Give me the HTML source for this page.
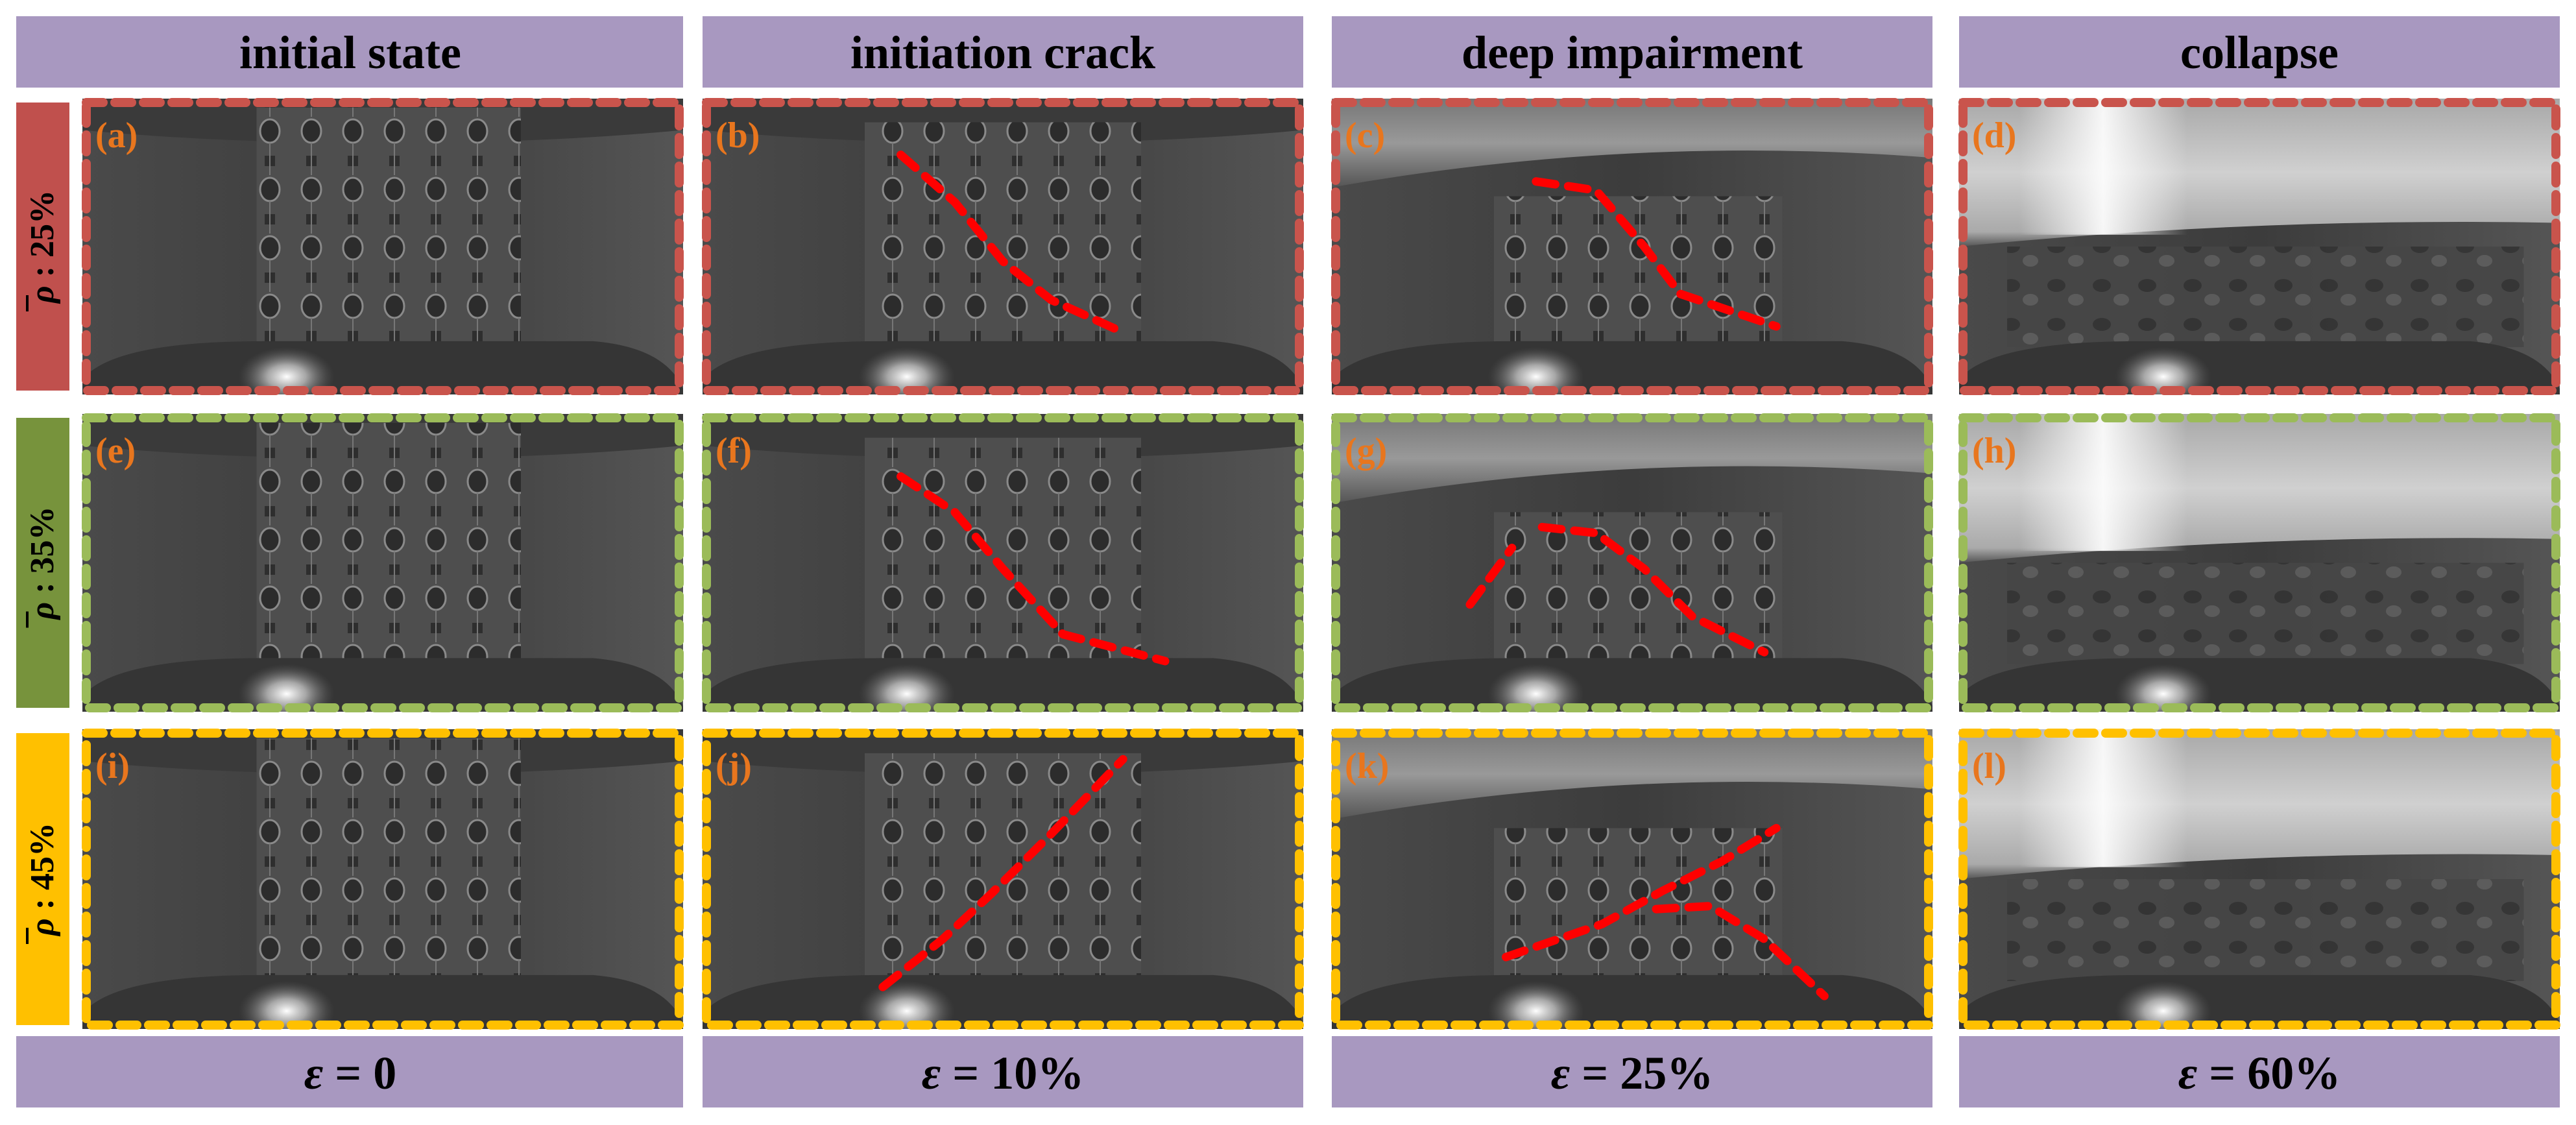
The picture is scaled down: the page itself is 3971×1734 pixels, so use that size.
<!DOCTYPE html>
<html><head><meta charset="utf-8">
<style>
html,body{margin:0;padding:0;background:#fff;}
svg{display:block;}
</style></head>
<body>
<svg id="fig" width="3971" height="1734" viewBox="0 0 3971 1734" xmlns="http://www.w3.org/2000/svg" font-family="'Liberation Serif', serif">
<defs>
  <radialGradient id="spot" cx="0.5" cy="0.5" r="0.5">
    <stop offset="0" stop-color="#ffffff" stop-opacity="1"/>
    <stop offset="0.4" stop-color="#d8d8d8" stop-opacity="0.7"/>
    <stop offset="1" stop-color="#666" stop-opacity="0"/>
  </radialGradient>
  <linearGradient id="bg" x1="0" y1="0" x2="1" y2="0">
    <stop offset="0" stop-color="#4a4a4a"/>
    <stop offset="0.5" stop-color="#3c3c3c"/>
    <stop offset="1" stop-color="#555"/>
  </linearGradient>
  <linearGradient id="topMid" x1="0" y1="0" x2="0" y2="1">
    <stop offset="0" stop-color="#777"/>
    <stop offset="0.5" stop-color="#999"/>
    <stop offset="1" stop-color="#555"/>
  </linearGradient>
  <linearGradient id="topBright" x1="0" y1="0" x2="0" y2="1">
    <stop offset="0" stop-color="#a8a8a8"/>
    <stop offset="0.5" stop-color="#d0d0d0"/>
    <stop offset="0.9" stop-color="#aaa"/>
    <stop offset="1" stop-color="#555"/>
  </linearGradient>
  <linearGradient id="streak" x1="0" y1="0" x2="1" y2="0">
    <stop offset="0" stop-color="#fff" stop-opacity="0"/>
    <stop offset="0.5" stop-color="#fff" stop-opacity="0.9"/>
    <stop offset="1" stop-color="#fff" stop-opacity="0"/>
  </linearGradient>
  <pattern id="cells" x="0" y="0" width="64" height="90" patternUnits="userSpaceOnUse">
    <rect width="64" height="90" fill="#4e4e4e"/>
    <ellipse cx="32" cy="22" rx="15" ry="18" fill="#2c2c2c" stroke="#8a8a8a" stroke-width="3"/>
    <rect x="24" y="60" width="16" height="16" fill="#2e2e2e"/>
    <line x1="32" y1="40" x2="32" y2="90" stroke="#777" stroke-width="2"/>
  </pattern>
  <pattern id="debris" x="0" y="0" width="70" height="60" patternUnits="userSpaceOnUse">
    <rect width="70" height="60" fill="#464646"/>
    <ellipse cx="20" cy="20" rx="14" ry="10" fill="#333"/>
    <ellipse cx="50" cy="42" rx="12" ry="9" fill="#5e5e5e"/>
  </pattern>
</defs>
<g id="layer"></g>
</svg>
<script>
// figure content
const colHeaders = ["initial state","initiation crack","deep impairment","collapse"];
const rowLabels = ["25%","35%","45%"];
const strains = ["0","10%","25%","60%"];
const panelLetters = ["a","b","c","d","e","f","g","h","i","j","k","l"];
// crack curves (fractions of panel width/height), per panel index
const cracks = {
  1: [[[0.33,0.19],[0.42,0.35],[0.50,0.55],[0.58,0.68],[0.70,0.79]]],
  2: [[[0.34,0.28],[0.44,0.31],[0.52,0.50],[0.58,0.66],[0.74,0.77]]],
  5: [[[0.33,0.21],[0.42,0.33],[0.50,0.52],[0.60,0.74],[0.77,0.83]]],
  6: [[[0.35,0.38],[0.44,0.40],[0.52,0.52],[0.60,0.68],[0.72,0.80]],[[0.23,0.64],[0.30,0.45]]],
  9: [[[0.30,0.86],[0.40,0.70],[0.48,0.55],[0.58,0.35],[0.70,0.10]]],
  10:[[[0.29,0.76],[0.45,0.65],[0.55,0.54],[0.65,0.44],[0.74,0.33]],[[0.54,0.60],[0.63,0.59],[0.72,0.70],[0.82,0.89]]]
};
</script>
<script>
const NS="http://www.w3.org/2000/svg";
const layer=document.getElementById('layer');
function mk(tag,attrs,parent){const e=document.createElementNS(NS,tag);for(const k in attrs)e.setAttribute(k,attrs[k]);(parent||layer).appendChild(e);return e;}
const colX=[127,1083,2053,3020], colW=[926,926,926,926];
const rowY=[152,638,1124], rowH=[456,459,462];
const hdrX=[25,1083,2053,3020], hdrW=[1028,926,926,926];
const rowColors=["#c0504d","#77933c","#ffc000"];
const dashColors=["#c9544c","#9bbb59","#ffc000"];
colHeaders.forEach((h,i)=>{
  const g=mk('g',{});
  
  
  mk('rect',{x:hdrX[i],y:25,width:hdrW[i],height:110,fill:'#a898c0'},g);
  const t=mk('text',{x:colX[i]+colW[i]/2+(i==0?-50:0),y:105,'text-anchor':'middle','font-size':72,'font-weight':'bold',fill:'#000'},g);
  t.textContent=h;
  const f=mk('g',{});
  
  
  mk('rect',{x:hdrX[i],y:1597,width:hdrW[i],height:110,fill:'#a898c0'},f);
  const ft=mk('text',{x:colX[i]+colW[i]/2+(i==0?-50:0),y:1678,'text-anchor':'middle','font-size':72,'font-weight':'bold',fill:'#000'},f);
  const e=mk('tspan',{'font-style':'italic'},ft); e.textContent='ε';
  const r=mk('tspan',{},ft); r.textContent=' =  '+strains[i];
});
rowLabels.forEach((l,r)=>{
  const g=mk('g',{});
  
  
  mk('rect',{x:25,y:rowY[r]+6,width:82,height:rowH[r]-12,fill:rowColors[r]},g);
  const cx=82, cy=rowY[r]+rowH[r]/2;
  const t=mk('text',{x:cx,y:cy,'text-anchor':'middle','font-size':52,'font-weight':'bold',fill:'#000',transform:`rotate(-90 ${cx} ${cy})`},g);
  const p=mk('tspan',{'font-style':'italic'},t); p.textContent='ρ';
  const s=mk('tspan',{},t); s.textContent=' :  '+l;
  mk('line',{x1:42,y1:cy+75,x2:42,y2:cy+100,stroke:'#000','stroke-width':4},g);
});
for(let r=0;r<3;r++)for(let c=0;c<4;c++){
  const idx=r*4+c;
  const x=colX[c], y=rowY[r], w=colW[c], h=rowH[r];
  const g=mk('g',{});
  
  
  const cp=mk('clipPath',{id:'cp'+idx},g);
  mk('rect',{x:x,y:y,width:w,height:h},cp);
  const s=mk('g',{'clip-path':`url(#cp${idx})`},g);
  mk('rect',{x:x,y:y,width:w,height:h,fill:'url(#bg)'},s);
  if(c==0||c==1){
    mk('ellipse',{cx:x+w*0.5,cy:y-h*0.05,rx:w*0.8,ry:h*0.2,fill:'#3a3a3a'},s);
  } else if(c==2){
    mk('path',{d:`M${x} ${y} H${x+w} V${y+h*0.2} Q${x+w*0.5} ${y+h*0.12} ${x} ${y+h*0.3} Z`,fill:'url(#topMid)'},s);
  } else {
    mk('path',{d:`M${x} ${y} H${x+w} V${y+h*0.42} Q${x+w*0.5} ${y+h*0.4} ${x} ${y+h*0.5} Z`,fill:'url(#topBright)'},s);
    mk('rect',{x:x+w*0.1,y:y,width:w*0.28,height:h*0.46,fill:'url(#streak)'},s);
  }
  let sx0=0.29,sx1=0.73,sy0=0.03,sy1=0.83;
  if(c==2){sx0=0.27;sx1=0.75;sy0=0.33;sy1=0.84;}
  if(c==1){sx0=0.27;sx1=0.73;sy0=0.08;sy1=0.83;}
  if(c<3){
    mk('rect',{x:x+w*sx0,y:y+h*sy0,width:w*(sx1-sx0),height:h*(sy1-sy0),fill:'url(#cells)'},s);
  } else {
    mk('rect',{x:x+w*0.08,y:y+h*0.5,width:w*0.86,height:h*0.34,fill:'url(#debris)',opacity:0.9},s);
  }
  mk('path',{d:`M${x} ${y+h} V${y+h*0.95} Q${x+w*0.05} ${y+h*0.82} ${x+w*0.3} ${y+h*0.82} H${x+w*0.85} Q${x+w*0.97} ${y+h*0.84} ${x+w} ${y+h*0.98} V${y+h} Z`,fill:'#353535'},s);
  mk('ellipse',{cx:x+w*0.34,cy:y+h*0.94,rx:w*0.08,ry:h*0.1,fill:'url(#spot)'},s);
  (cracks[idx]||[]).forEach((pts,k)=>{
    let d='M'+(x+pts[0][0]*w)+' '+(y+pts[0][1]*h);
    for(let i=1;i<pts.length;i++)d+=' L'+(x+pts[i][0]*w)+' '+(y+pts[i][1]*h);
    const p=mk('path',{d:d,fill:'none',stroke:'#ff0000','stroke-width':13,'stroke-dasharray':'30 20','stroke-linecap':'round','stroke-linejoin':'round'},g);
    
    
  });
  mk('rect',{x:x+6,y:y+6,width:w-12,height:h-12,fill:'none',stroke:dashColors[r],'stroke-width':14,'stroke-dasharray':'26 18','stroke-linecap':'round'},g);
  const t=mk('text',{x:x+20,y:y+75,'font-size':56,'font-weight':'bold',fill:'#e8761e'},g);
  t.textContent='('+panelLetters[idx]+')';
}
</script>
</body></html>
